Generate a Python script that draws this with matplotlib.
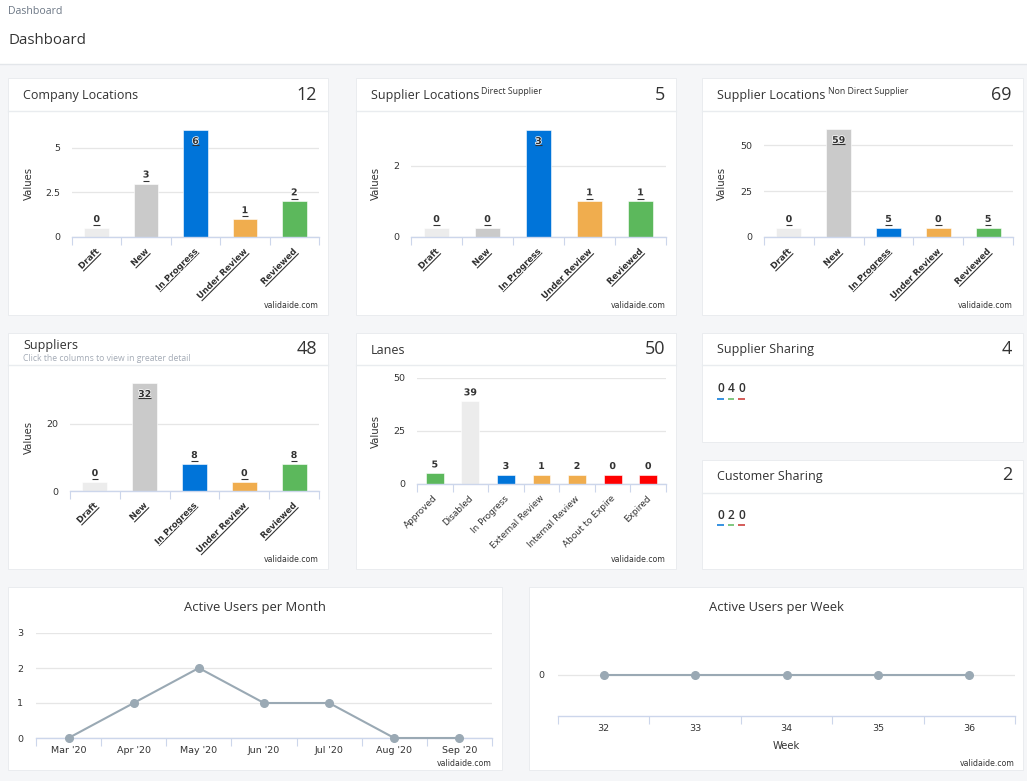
import numpy as np
import matplotlib
matplotlib.use("Agg")
import matplotlib.pyplot as plt
import matplotlib.patheffects as pe
from matplotlib.patches import Rectangle
from matplotlib.lines import Line2D

W, H, DPI = 1027, 781, 100

# ---------------- data ----------------
status_labels = ["Draft", "New", "In Progress", "Under Review", "Reviewed"]
status_colors = ["#ececec", "#cacaca", "#0074d9", "#f0ad4e", "#5cb85c"]
company_locations = [0, 3, 6, 1, 2]
supplier_direct = [0, 0, 3, 1, 1]
supplier_non_direct = [0, 59, 5, 0, 5]
suppliers = [0, 32, 8, 0, 8]

lane_labels = ["Approved", "Disabled", "In Progress", "External Review",
               "Internal Review", "About to Expire", "Expired"]
lane_colors = ["#5cb85c", "#ececec", "#0074d9", "#f0ad4e", "#f0ad4e", "#ff0000", "#ff0000"]
lanes = [5, 39, 3, 1, 2, 0, 0]

sharing_colors = ["#0074d9", "#5cb85c", "#c9302c"]
supplier_sharing = [0, 4, 0]
customer_sharing = [0, 2, 0]

months = ["Mar '20", "Apr '20", "May '20", "Jun '20", "Jul '20", "Aug '20", "Sep '20"]
monthly_users = [0, 1, 2, 1, 1, 0, 0]
weeks = ["32", "33", "34", "35", "36"]
weekly_users = [0, 0, 0, 0, 0]

# ---------------- style ----------------
TF = ["Open Sans", "DejaVu Sans"]
CF = ["DejaVu Sans"]
DARK = "#333333"
GRID = "#e6e6e6"
AXIS = "#ccd6eb"
LINE = "#9aa9b4"
BG = "#f5f6f8"

fig = plt.figure(figsize=(W / DPI, H / DPI), dpi=DPI, facecolor=BG)
bg = fig.add_axes([0, 0, 1, 1], zorder=0)
bg.set_xlim(0, W)
bg.set_ylim(H, 0)
bg.axis("off")
bg.patch.set_alpha(0)

# header band
bg.add_patch(Rectangle((0, 0), W, 64, facecolor="white", edgecolor="none"))
bg.plot([0, W], [64, 64], color="#e3e6ea", lw=1)
bg.text(8, 11, "Dashboard", family=TF, fontsize=7.6, color="#6c7785", va="center")
bg.text(8, 40, "Dashboard", family=TF, fontsize=10.8, color=DARK, va="center")


def card(x0, y0, x1, y1, sep=None):
    bg.add_patch(Rectangle((x0, y0), x1 - x0, y1 - y0, facecolor="white",
                           edgecolor="#eaecef", lw=0.7))
    if sep is not None:
        bg.plot([x0, x1], [sep, sep], color="#e9ecef", lw=1)


def card_head(x0, x1, y, title, total, sup=None, sup_x=None, num_y=None):
    bg.text(x0 + 15, y, title, family=TF, fontsize=9, color=DARK, va="center")
    if sup:
        bg.text(sup_x, y - 4, sup, family=TF, fontsize=6.3, color=DARK, va="center")
    bg.text(x1 - 11, num_y if num_y else y - 1, str(total), family=TF, fontsize=13,
            color=DARK, va="center", ha="right")


def credits(x, y):
    bg.text(x, y, "validaide.com", family=CF, fontsize=5.6, color=DARK,
            ha="right", va="center")


# cards
card(8, 78, 328, 315, 111)
card(356, 78, 676, 315, 111)
card(702, 78, 1023, 315, 111)
card(8, 333, 328, 569, 365)
card(356, 333, 676, 569, 365)
card(702, 333, 1023, 442, 365)
card(702, 460, 1023, 569, 492.5)
card(8, 587, 502, 770)
card(529, 587, 1023, 770)

OUT = [pe.withStroke(linewidth=1.6, foreground="white")]
OUT_THIN = [pe.withStroke(linewidth=1.0, foreground="white")]


def px_axes(x0, y0, x1, y1):
    ax = fig.add_axes([x0 / W, 1 - y1 / H, (x1 - x0) / W, (y1 - y0) / H], zorder=2)
    ax.patch.set_alpha(0)
    return ax


def draw_label(xd, yd, s, rot, ha, va, size, weight, underline, outline=OUT):
    t = fig.text(xd / W, yd / H, s, rotation=rot, rotation_mode="anchor", ha=ha, va=va,
                 fontsize=size, fontweight=weight, color=DARK, family=CF,
                 path_effects=outline, zorder=6)
    if underline:
        r = fig.canvas.get_renderer()
        w, h, d = r.get_text_width_height_descent(s, t.get_fontproperties(), ismath=False)
        xs = {"right": (-w, 0), "center": (-w / 2, w / 2), "left": (0, w)}[ha]
        base = {"center": -h / 2 + d, "bottom": d, "top": -h + d}[va]
        u = base - 1.3
        th = np.deg2rad(rot)
        c, sn = np.cos(th), np.sin(th)
        px = [xd + xx * c - u * sn for xx in xs]
        py = [yd + xx * sn + u * c for xx in xs]
        fig.add_artist(Line2D([p / W for p in px], [p / H for p in py],
                              transform=fig.transFigure, color=DARK, lw=0.8, zorder=6,
                              solid_capstyle="butt"))


def style_axes(ax, yticks, yticklabels, ypad_px=12):
    for sp in ["top", "right", "left"]:
        ax.spines[sp].set_visible(False)
    ax.spines["bottom"].set_color(AXIS)
    ax.spines["bottom"].set_linewidth(1)
    ax.spines["bottom"].set_zorder(4)
    ax.set_yticks(yticks)
    ax.set_yticklabels(yticklabels, family=CF, fontsize=6.8, color=DARK)
    ax.tick_params(axis="y", length=0, pad=ypad_px * 0.72)
    ax.grid(axis="y", color=GRID, lw=0.9, zorder=0)
    ax.set_axisbelow(True)


def bar_chart(frame, labels, values, colors, ymax, yticks, yticklabels,
              rich=True, ylab_dx=42):
    x0, y0, x1, y1 = frame
    ax = px_axes(x0, y0, x1, y1)
    n = len(values)
    scale = (y1 - y0) / ymax
    minh = 9.0 / scale
    heights = [max(v, minh) for v in values]
    ax.bar(np.arange(n), heights, width=0.5, color=colors, zorder=3,
           edgecolor="white", linewidth=0.4)
    ax.set_xlim(-0.5, n - 0.5)
    ax.set_ylim(0, ymax)
    style_axes(ax, yticks, yticklabels)
    ax.set_xticks(np.arange(n + 1) - 0.5)
    ax.set_xticklabels([])
    ax.tick_params(axis="x", length=5.5, color=AXIS, width=0.8)
    bg.text(x0 - ylab_dx, (y0 + y1) / 2, "Values", family=CF, fontsize=7.3,
            color=DARK, rotation=90, ha="center", va="center")
    top_disp = H - y0
    for i, lab in enumerate(labels):
        xd, yd = ax.transData.transform((i, 0))
        if rich:
            draw_label(xd + 1, yd - 13, lab, 45, "right", "center", 6.2, "bold", True)
        else:
            draw_label(xd + 1, yd - 13, lab, 45, "right", "center", 6.4, "normal", False,
                       outline=None)
    for i, (v, h) in enumerate(zip(values, heights)):
        xd, yd = ax.transData.transform((i, h))
        if top_disp - yd < 16:
            draw_label(xd, yd - 7, str(v), 0, "center", "top", 6.8, "bold", rich,
                       outline=OUT_THIN)
        else:
            draw_label(xd, yd + 4, str(v), 0, "center", "bottom", 6.8, "bold", rich)
    return ax


# ---------------- row 1 ----------------
card_head(8, 328, 96, "Company Locations", sum(company_locations), num_y=94.5)
bar_chart((72, 130, 319, 237), status_labels, company_locations, status_colors,
          6, [0, 2.5, 5], ["0", "2.5", "5"], ylab_dx=43)
credits(319, 305.5)

card_head(356, 676, 96, "Supplier Locations", sum(supplier_direct),
          sup="Direct Supplier", sup_x=481, num_y=94.5)
bar_chart((411, 130, 666, 237), status_labels, supplier_direct, status_colors,
          3, [0, 2], ["0", "2"], ylab_dx=35)
credits(666, 305.5)

card_head(702, 1023, 96, "Supplier Locations", sum(supplier_non_direct),
          sup="Non Direct Supplier", sup_x=828, num_y=94.5)
bar_chart((764, 129, 1013, 237), status_labels, supplier_non_direct, status_colors,
          59, [0, 25, 50], ["0", "25", "50"], ylab_dx=42)
credits(1013, 305.5)

# ---------------- row 2 ----------------
bg.text(23, 345.5, "Suppliers", family=TF, fontsize=9, color=DARK, va="center")
bg.text(23, 358.5, "Click the columns to view in greater detail", family=TF,
        fontsize=6.2, color="#a4abb6", va="center")
bg.text(317, 348.5, str(sum(suppliers)), family=TF, fontsize=13, color=DARK,
        va="center", ha="right")
bar_chart((70, 383, 319, 491), status_labels, suppliers, status_colors,
          32, [0, 20], ["0", "20"], ylab_dx=41)
credits(319, 559.3)

card_head(356, 676, 350, "Lanes", sum(lanes), num_y=348.5)
bar_chart((417, 378, 666, 484), lane_labels, lanes, lane_colors,
          50, [0, 25, 50], ["0", "25", "50"], rich=False, ylab_dx=41)
credits(666, 559.3)

card_head(702, 1023, 350, "Supplier Sharing", sum(supplier_sharing), num_y=348.5)
card_head(702, 1023, 476.5, "Customer Sharing", sum(customer_sharing), num_y=475.5)


def sharing(vals, y):
    xs = [720.7, 730.9, 741.4]
    for xv, v, c in zip(xs, vals, sharing_colors):
        bg.text(xv, y, str(v), family=TF, fontsize=8.6, color=DARK, ha="center",
                va="center", fontweight="semibold")
        bg.plot([xv - 3.4, xv + 3.4], [y + 10.2, y + 10.2], color=c, lw=1.1,
                solid_capstyle="butt")


sharing(supplier_sharing, 388.3)
sharing(customer_sharing, 515.2)

# ---------------- row 3 ----------------
bg.text(255, 607.7, "Active Users per Month", family=TF, fontsize=9.4, color=DARK,
        ha="center", va="center")
ax = px_axes(36, 633, 492, 738)
n = len(months)
ax.plot(np.arange(n), monthly_users, color=LINE, lw=1.5, marker="o", ms=5.5,
        zorder=5, clip_on=False)
ax.set_xlim(-0.5, n - 0.5)
ax.set_ylim(0, 3)
style_axes(ax, [0, 1, 2, 3], ["0", "1", "2", "3"], ypad_px=13)
ax.set_xticks(np.arange(n + 1) - 0.5)
ax.set_xticklabels([])
ax.set_xticks(np.arange(n), minor=True)
ax.set_xticklabels(months, minor=True, family=CF, fontsize=6.8, color=DARK)
ax.tick_params(axis="x", which="major", length=5.5, color=AXIS, width=0.8)
ax.tick_params(axis="x", which="minor", length=0, pad=5.5)
credits(492, 763)

bg.text(776, 607.7, "Active Users per Week", family=TF, fontsize=9.4, color=DARK,
        ha="center", va="center")
ax = px_axes(558, 634, 1015, 716)
n = len(weeks)
ax.plot(np.arange(n), weekly_users, color=LINE, lw=1.5, marker="o", ms=5.5,
        zorder=5, clip_on=False)
ax.set_xlim(-0.5, n - 0.5)
ax.set_ylim(-1, 1)
style_axes(ax, [0], ["0"], ypad_px=14)
ax.set_xticks(np.arange(n + 1) - 0.5)
ax.set_xticklabels([])
ax.set_xticks(np.arange(n), minor=True)
ax.set_xticklabels(weeks, minor=True, family=CF, fontsize=6.8, color=DARK)
ax.tick_params(axis="x", which="major", length=5.5, color=AXIS, width=0.8)
ax.tick_params(axis="x", which="minor", length=0, pad=5.5)
bg.text(786.5, 746.3, "Week", family=CF, fontsize=7.2, color=DARK, ha="center",
        va="center")
credits(1015, 763)

fig.savefig("out.png", dpi=DPI, facecolor=BG)
